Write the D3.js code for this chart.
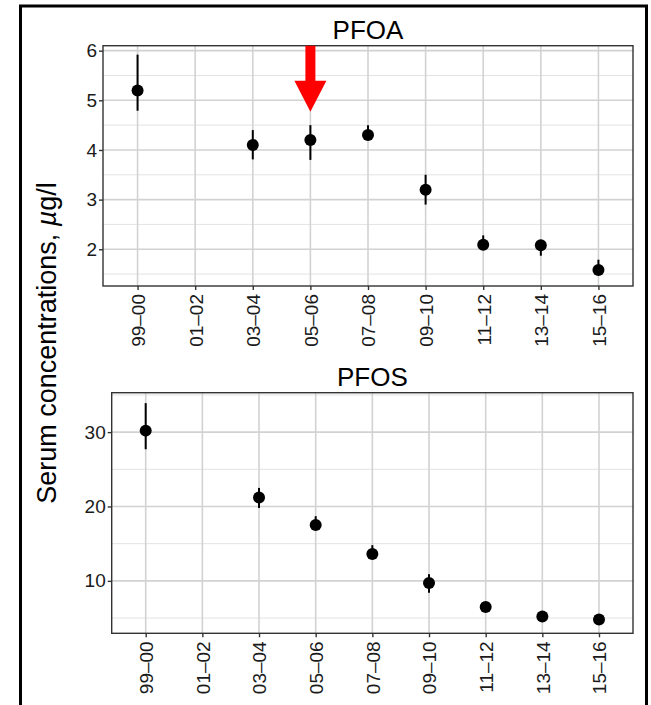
<!DOCTYPE html>
<html>
<head>
<meta charset="utf-8">
<script src="https://cdnjs.cloudflare.com/ajax/libs/d3/7.8.5/d3.min.js"></script>
<style>
  body { margin: 0; background: #fff; }
  svg { display: block; font-family: "Liberation Sans", Arial, sans-serif; }
</style>
</head>
<body>
<script>
// survey periods on the x axis
var periods = ["99–00", "01–02", "03–04", "05–06", "07–08", "09–10", "11–12", "13–14", "15–16"];

// PFOA, geometric means with 95% intervals (null = no survey)
var pfoaMean  = [5.2,  null, 4.1,  4.2,  4.3, 3.2, 2.09, 2.08, 1.58];
var pfoaLower = [4.79, null, 3.81, 3.8,  4.2, 2.9, 2.0,  1.87, 1.5];
var pfoaUpper = [5.92, null, 4.4,  4.5,  4.5, 3.5, 2.28, 2.15, 1.79];
var pfoaTicks = [2, 3, 4, 5, 6];
var pfoaMinor = [1.5, 2.5, 3.5, 4.5, 5.5];
var pfoaDomain = [1.26, 6.1];

// PFOS
var pfosMean  = [30.2, null, 21.2, 17.5, 13.6, 9.7, 6.5, 5.2, 4.8];
var pfosLower = [27.7, null, 19.8, 17.0, 13.0, 8.4, 6.2, 4.9, 4.5];
var pfosUpper = [33.9, null, 22.5, 18.7, 14.8, 10.9, 6.8, 5.5, 5.1];
var pfosTicks = [10, 20, 30];
var pfosMinor = [5, 15, 25, 35];
var pfosDomain = [2.95, 35.3];

// red arrow marking 05-06 in the PFOA panel
var arrowPeriod = "05–06";
var arrowFrom = 6.1;
var arrowTo = 4.77;

var width = 651;
var height = 705;

var gridColor = "#d2d2d2";
var minorColor = "#e3e3e3";
var textColor = "#1a1a1a";

var svg = d3.select("body").append("svg")
    .attr("width", width)
    .attr("height", height);

// outer frame (bottom edge runs off the picture)
svg.append("rect")
    .attr("x", 20.5)
    .attr("y", 6)
    .attr("width", 626)
    .attr("height", 740)
    .attr("fill", "none")
    .attr("stroke", "#000")
    .attr("stroke-width", 3);

function drawPanel(opts) {
    var x = d3.scalePoint()
        .domain(periods)
        .range([opts.left, opts.right])
        .padding(0.6);

    var y = d3.scaleLinear()
        .domain(opts.domain)
        .range([opts.bottom, opts.top]);

    var g = svg.append("g");

    // minor grid
    g.selectAll(".minor")
        .data(opts.minor.filter(function (d) { return d >= opts.domain[0] && d <= opts.domain[1]; }))
        .enter().append("line")
        .attr("x1", opts.left).attr("x2", opts.right)
        .attr("y1", function (d) { return y(d); })
        .attr("y2", function (d) { return y(d); })
        .attr("stroke", minorColor)
        .attr("stroke-width", 1);

    // major grid
    g.selectAll(".hmajor")
        .data(opts.ticks)
        .enter().append("line")
        .attr("x1", opts.left).attr("x2", opts.right)
        .attr("y1", function (d) { return y(d); })
        .attr("y2", function (d) { return y(d); })
        .attr("stroke", gridColor)
        .attr("stroke-width", 1.6);

    g.selectAll(".vmajor")
        .data(periods)
        .enter().append("line")
        .attr("x1", function (d) { return x(d); })
        .attr("x2", function (d) { return x(d); })
        .attr("y1", opts.top).attr("y2", opts.bottom)
        .attr("stroke", gridColor)
        .attr("stroke-width", 1.6);

    // panel border
    g.append("rect")
        .attr("x", opts.left)
        .attr("y", opts.top)
        .attr("width", opts.right - opts.left)
        .attr("height", opts.bottom - opts.top)
        .attr("fill", "none")
        .attr("stroke", "#333")
        .attr("stroke-width", 1.4);

    var rows = periods.map(function (p, i) {
        return {period: p, mean: opts.mean[i], lower: opts.lower[i], upper: opts.upper[i]};
    }).filter(function (d) { return d.mean !== null; });

    // error bars
    g.selectAll(".err")
        .data(rows)
        .enter().append("line")
        .attr("x1", function (d) { return x(d.period); })
        .attr("x2", function (d) { return x(d.period); })
        .attr("y1", function (d) { return y(d.lower); })
        .attr("y2", function (d) { return y(d.upper); })
        .attr("stroke", "#000")
        .attr("stroke-width", 2);

    g.selectAll(".pt")
        .data(rows)
        .enter().append("circle")
        .attr("cx", function (d) { return x(d.period); })
        .attr("cy", function (d) { return y(d.mean); })
        .attr("r", 6)
        .attr("fill", "#000");

    // axes
    var yAxis = g.append("g")
        .attr("transform", "translate(" + opts.left + ",0)")
        .call(d3.axisLeft(y).tickValues(opts.ticks).tickFormat(d3.format("d"))
            .tickSize(4).tickPadding(2));
    yAxis.select(".domain").remove();
    yAxis.selectAll("line").attr("stroke", "#333").attr("stroke-width", 1.4);
    yAxis.selectAll("text")
        .attr("fill", textColor)
        .style("font-size", "19px");

    var xAxis = g.append("g")
        .attr("transform", "translate(0," + opts.bottom + ")")
        .call(d3.axisBottom(x).tickSize(4).tickPadding(2));
    xAxis.select(".domain").remove();
    xAxis.selectAll("line").attr("stroke", "#333").attr("stroke-width", 1.4);
    xAxis.selectAll("text")
        .attr("fill", textColor)
        .style("font-size", "19px")
        .attr("transform", "rotate(-90)")
        .attr("x", -8)
        .attr("y", 0)
        .attr("dy", "0.36em")
        .style("text-anchor", "end");

    // panel title
    svg.append("text")
        .attr("x", (opts.left + opts.right) / 2)
        .attr("y", opts.top - 7)
        .attr("text-anchor", "middle")
        .attr("fill", "#000")
        .style("font-size", "26px")
        .text(opts.title);

    return {x: x, y: y};
}

var pfoaPanel = drawPanel({
    title: "PFOA",
    left: 103, right: 633, top: 45.7, bottom: 286,
    domain: pfoaDomain, ticks: pfoaTicks, minor: pfoaMinor,
    mean: pfoaMean, lower: pfoaLower, upper: pfoaUpper
});

drawPanel({
    title: "PFOS",
    left: 111.7, right: 633, top: 392.7, bottom: 633.3,
    domain: pfosDomain, ticks: pfosTicks, minor: pfosMinor,
    mean: pfosMean, lower: pfosLower, upper: pfosUpper
});

// arrow: shaft plus closed head
var ax = pfoaPanel.x(arrowPeriod);
var ay0 = pfoaPanel.y(arrowFrom);
var ay1 = pfoaPanel.y(arrowTo);
var headLen = 31, headHalf = 16, shaftHalf = 5;
svg.append("path")
    .attr("d", "M" + (ax - shaftHalf) + "," + ay0 +
        "L" + (ax + shaftHalf) + "," + ay0 +
        "L" + (ax + shaftHalf) + "," + (ay1 - headLen) +
        "L" + (ax + headHalf) + "," + (ay1 - headLen) +
        "L" + ax + "," + ay1 +
        "L" + (ax - headHalf) + "," + (ay1 - headLen) +
        "L" + (ax - shaftHalf) + "," + (ay1 - headLen) + "Z")
    .attr("fill", "#ff0000");

// shared y label
var ylab = svg.append("text")
    .attr("transform", "translate(56,343) rotate(-90)")
    .attr("text-anchor", "middle")
    .attr("fill", "#000")
    .style("font-size", "27px");
ylab.append("tspan").text("Serum concentrations, ");
ylab.append("tspan").style("font-style", "italic").text("µ");
ylab.append("tspan").text("g/l");
</script>
</body>
</html>
